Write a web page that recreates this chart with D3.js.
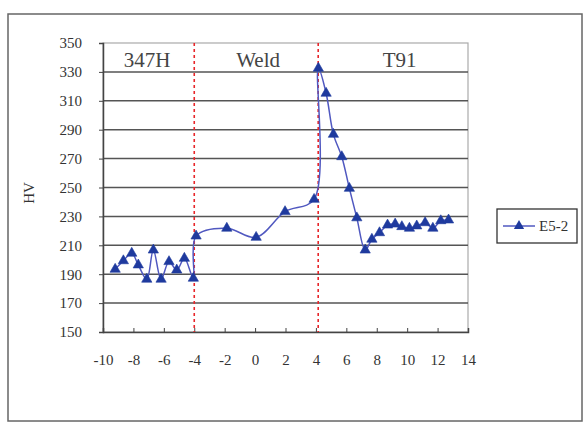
<!DOCTYPE html>
<html><head><meta charset="utf-8">
<script src="https://cdn.jsdelivr.net/npm/d3@7"></script>
<style>body{margin:0;background:#fff;} svg{display:block;}</style>
</head><body>
<svg id="chart" width="586" height="425"></svg>
<script>
const xPos = [-9.2,-8.66,-8.11,-7.68,-7.12,-6.69,-6.18,-5.66,-5.15,-4.65,-4.06,
  -3.88,-1.86,0.07,1.97,3.88,
  4.16,4.67,5.15,5.7,6.2,6.69,
  7.24,7.68,8.18,8.71,9.21,9.65,10.15,10.63,11.18,11.69,12.21,12.72];
const hv = [193.4,199.3,204.5,196.4,186.5,206.7,186.5,198.7,192.9,201,187.2,
  216.4,221.8,215.5,233.3,241.8,
  332.5,315.2,286.8,271.3,249.4,229,
  206.7,214.2,218.7,224,224.7,222.9,221.8,223.4,225.6,221.8,227,227.5];
const xTicks = [-10,-8,-6,-4,-2,0,2,4,6,8,10,12,14];
const yTicks = [150,170,190,210,230,250,270,290,310,330,350];
const boundaries = [-4, 4.15];
const regions = [{label:"347H", x:-7.1}, {label:"Weld", x:0.2}, {label:"T91", x:9.5}];
const seriesName = "E5-2";

const svg = d3.select("#chart");
const L=103, R=468, T=43, B=332;
const x = d3.scaleLinear().domain([-10,14]).range([L,R]);
const y = d3.scaleLinear().domain([150,350]).range([B,T]);
const font = "'Liberation Serif','Times New Roman',serif";

// outer frame
svg.append("rect").attr("x",8).attr("y",14).attr("width",574).attr("height",407)
  .attr("fill","#fff").attr("stroke","#666").attr("stroke-width",1.5);

// plot area
svg.append("rect").attr("x",L).attr("y",T).attr("width",R-L).attr("height",B-T)
  .attr("fill","#fff").attr("stroke","#aaa").attr("stroke-width",1.2);

// gridlines
svg.append("g").selectAll("line").data(yTicks.filter(d=>d>150 && d<350)).join("line")
  .attr("x1",L).attr("x2",R).attr("y1",d=>y(d)).attr("y2",d=>y(d))
  .attr("stroke","#555").attr("stroke-width",1.5);

// axes
const yAxis = d3.axisLeft(y).tickValues(yTicks).tickSize(4).tickPadding(17).tickFormat(d=>String(d));
const gy = svg.append("g").attr("transform",`translate(${L},0)`).call(yAxis);
gy.select(".domain").attr("stroke","#444").attr("stroke-width",1.5);
gy.selectAll(".tick line").attr("stroke","#444");
gy.selectAll("text").attr("font-family",font).attr("font-size",15).attr("fill","#333");

const xAxis = d3.axisBottom(x).tickValues(xTicks).tickSize(-4).tickPadding(22).tickFormat(d=>String(d));
const gx = svg.append("g").attr("transform",`translate(0,${B})`).call(xAxis);
gx.select(".domain").attr("stroke","#444").attr("stroke-width",1.5);
gx.selectAll(".tick line").attr("stroke","#444");
gx.selectAll("text").attr("font-family",font).attr("font-size",15).attr("fill","#333");

// y title
svg.append("text").attr("transform",`translate(34,193) rotate(-90)`)
  .attr("text-anchor","middle").attr("font-family",font).attr("font-size",15)
  .attr("fill","#333").text("HV");

// boundaries
svg.append("g").selectAll("line").data(boundaries).join("line")
  .attr("x1",d=>x(d)).attr("x2",d=>x(d)).attr("y1",T).attr("y2",B)
  .attr("stroke","#e8262a").attr("stroke-width",1.6).attr("stroke-dasharray","3,3");

// region labels
svg.append("g").selectAll("text").data(regions).join("text")
  .attr("x",d=>x(d.x)).attr("y",67).attr("text-anchor","middle")
  .attr("font-family",font).attr("font-size",21).attr("fill","#444").text(d=>d.label);

// line
const pts = xPos.map((d,i)=>[d,hv[i]]);
svg.append("path").datum(pts)
  .attr("d", d3.line().x(d=>x(d[0])).y(d=>y(d[1])).curve(d3.curveCatmullRom.alpha(0.5)))
  .attr("fill","none").attr("stroke","#5058c0").attr("stroke-width",1.5);

const tri = d3.symbol().type(d3.symbolTriangle).size(46);
svg.append("g").selectAll("path").data(pts).join("path")
  .attr("transform",d=>`translate(${x(d[0])},${y(d[1])})`)
  .attr("d",tri).attr("fill","#1f3a9e").attr("stroke","#1f3a9e").attr("stroke-width",0.6);

// legend
const lg = svg.append("g");
lg.append("rect").attr("x",497).attr("y",209).attr("width",80).attr("height",34)
  .attr("fill","#fff").attr("stroke","#333").attr("stroke-width",1.3);
lg.append("line").attr("x1",503).attr("x2",535).attr("y1",226).attr("y2",226)
  .attr("stroke","#5058c0").attr("stroke-width",1.5);
lg.append("path").attr("transform","translate(519,226)").attr("d",tri).attr("fill","#1f3a9e");
lg.append("text").attr("x",539).attr("y",231).attr("font-family",font).attr("font-size",15)
  .attr("fill","#333").text(seriesName);
</script>
</body></html>
